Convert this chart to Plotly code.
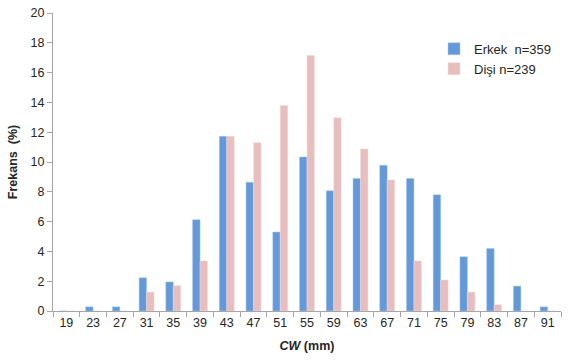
import plotly.graph_objects as go

categories = ["19", "23", "27", "31", "35", "39", "43", "47", "51", "55", "59", "63", "67", "71", "75", "79", "83", "87", "91"]
erkek = [0, 0.28, 0.28, 2.23, 1.95, 6.13, 11.72, 8.64, 5.3, 10.34, 8.07, 8.9, 9.78, 8.9, 7.8, 3.64, 4.2, 1.67, 0.28]
disi = [0, 0, 0, 1.27, 1.7, 3.36, 11.72, 11.3, 13.8, 17.15, 12.97, 10.87, 8.8, 3.36, 2.08, 1.27, 0.42, 0, 0]
y_ticks = [0, 2, 4, 6, 8, 10, 12, 14, 16, 18, 20]

fig = go.Figure()
fig.add_trace(go.Bar(x=categories, y=erkek, name="Erkek  n=359", marker=dict(color="#6399D8", line=dict(color="#A9C8EE", width=0.5))))
fig.add_trace(go.Bar(x=categories, y=disi, name="Dişi n=239", marker=dict(color="#E7BDBD", line=dict(color="#F3DEDE", width=0.5))))

fig.update_layout(
    width=583, height=361,
    margin=dict(l=53, r=22, t=13, b=50),
    paper_bgcolor="white", plot_bgcolor="white",
    barmode="group", bargap=0.44, bargroupgap=0,
    font=dict(family="Liberation Sans, Arial, sans-serif", size=12, color="#262626"),
    legend=dict(x=0.75, y=0.93, xanchor="left", yanchor="top", bgcolor="rgba(0,0,0,0)",
                font=dict(size=13), itemwidth=30, tracegroupgap=0),
    xaxis=dict(type="category", showline=True, linecolor="#A6A6A6", linewidth=1, automargin=False,
               ticks="outside", tickson="boundaries", ticklen=5, tickcolor="#A6A6A6",
               tickfont=dict(size=12.5),
               title=dict(text="<b><i>CW</i> (mm)</b>", font=dict(size=12.5), standoff=12)),
    yaxis=dict(range=[0, 20], tickvals=y_ticks, showline=True, linecolor="#A6A6A6", linewidth=1, automargin=False,
               ticks="outside", ticklen=5, tickcolor="#A6A6A6", showgrid=False, zeroline=False,
               tickfont=dict(size=12.5),
               title=dict(text="<b>Frekans  (%)</b>", font=dict(size=12.5), standoff=10)),
)

fig.write_html("out.html", config={"displayModeBar": False},
               post_script="document.body.style.margin='0';document.body.style.overflow='hidden';")
